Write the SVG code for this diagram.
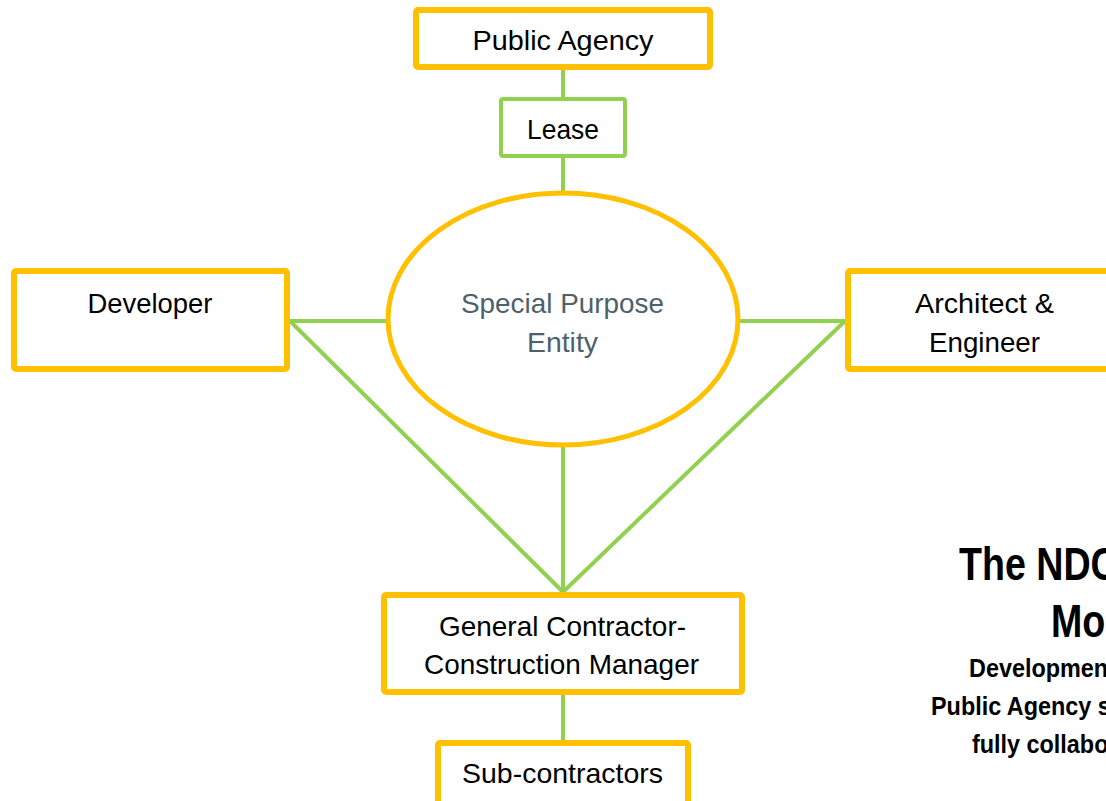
<svg xmlns="http://www.w3.org/2000/svg" width="1106" height="801" viewBox="0 0 1106 801">
  <style>
    .box { fill: #ffffff; stroke: #FFC000; stroke-width: 6; }
    .gbox { fill: #ffffff; stroke: #92D050; stroke-width: 4; }
    .link { stroke: #92D050; stroke-width: 4; fill: none; }
    .lbl { font-family: "Liberation Sans", Arial, sans-serif; font-size: 28px; fill: #000000; text-anchor: middle; }
    .spe { fill: #4E616B; }
    .title { font-family: "Liberation Sans", Arial, sans-serif; font-weight: bold; font-size: 47px; fill: #000000; }
    .sub { font-family: "Liberation Sans", Arial, sans-serif; font-weight: bold; font-size: 26px; fill: #000000; }
  </style>
  <rect width="1106" height="801" fill="#ffffff"/>

  <!-- connectors -->
  <g id="connectors">
    <line class="link" x1="563" y1="70" x2="563" y2="99"/>
    <line class="link" x1="563" y1="156" x2="563" y2="193"/>
    <line class="link" x1="290" y1="321" x2="388" y2="321"/>
    <line class="link" x1="738" y1="321" x2="845" y2="321"/>
    <line class="link" x1="290" y1="321" x2="563" y2="592"/>
    <line class="link" x1="845" y1="321" x2="563" y2="592"/>
    <line class="link" x1="563" y1="446" x2="563" y2="592"/>
    <line class="link" x1="563" y1="695" x2="563" y2="740"/>
  </g>

  <g id="public-agency">
    <rect class="box" x="416" y="10" width="294" height="57" rx="2"/>
    <text class="lbl" x="563" y="50" textLength="181" lengthAdjust="spacingAndGlyphs">Public Agency</text>
  </g>

  <g id="lease">
    <rect class="gbox" x="501" y="99" width="124" height="57" rx="2"/>
    <text class="lbl" x="563" y="139" textLength="72" lengthAdjust="spacingAndGlyphs">Lease</text>
  </g>

  <g id="spe">
    <ellipse cx="563" cy="319" rx="175" ry="126" fill="#ffffff" stroke="#FFC000" stroke-width="5"/>
    <text class="lbl spe" x="562.5" y="313" textLength="203" lengthAdjust="spacingAndGlyphs">Special Purpose</text>
    <text class="lbl spe" x="562.5" y="352" textLength="71" lengthAdjust="spacingAndGlyphs">Entity</text>
  </g>

  <g id="developer">
    <rect class="box" x="14" y="271" width="273" height="98" rx="2"/>
    <text class="lbl" x="150" y="313" textLength="125" lengthAdjust="spacingAndGlyphs">Developer</text>
  </g>

  <g id="architect-engineer">
    <rect class="box" x="848" y="271" width="273" height="98" rx="2"/>
    <text class="lbl" x="984.5" y="313" textLength="139" lengthAdjust="spacingAndGlyphs">Architect &amp;</text>
    <text class="lbl" x="984.5" y="352" textLength="111" lengthAdjust="spacingAndGlyphs">Engineer</text>
  </g>

  <g id="gc-cm">
    <rect class="box" x="384" y="595" width="358" height="97" rx="2"/>
    <text class="lbl" x="562.5" y="636" textLength="247" lengthAdjust="spacingAndGlyphs">General Contractor-</text>
    <text class="lbl" x="561.5" y="674" textLength="275" lengthAdjust="spacingAndGlyphs">Construction Manager</text>
  </g>

  <g id="subcontractors">
    <rect class="box" x="438" y="743" width="250" height="64" rx="2"/>
    <text class="lbl" x="562.5" y="783" textLength="201" lengthAdjust="spacingAndGlyphs">Sub-contractors</text>
  </g>

  <!-- title block running off the right edge -->
  <g id="title">
    <text class="title" transform="translate(959,580) scale(0.8,1)" x="0" y="0">The NDC</text>
    <text class="title" transform="translate(1051,637) scale(0.8,1)" x="0" y="0">Mo</text>
    <text class="sub" transform="translate(969,677) scale(0.9,1)" x="0" y="0">Developmen</text>
    <text class="sub" transform="translate(931,715) scale(0.9,1)" x="0" y="0">Public Agency s</text>
    <text class="sub" transform="translate(972,753) scale(0.9,1)" x="0" y="0">fully collabo</text>
  </g>
</svg>
